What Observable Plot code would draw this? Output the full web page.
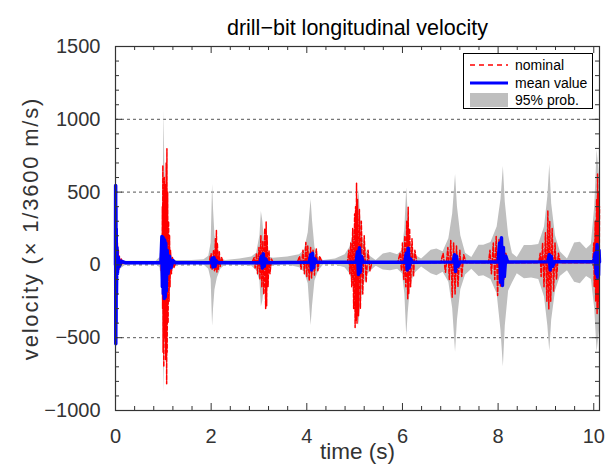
<!DOCTYPE html>
<html>
<head>
<meta charset="utf-8">
<script src="https://cdn.jsdelivr.net/npm/d3@7"></script>
<script src="https://cdn.jsdelivr.net/npm/@observablehq/plot@0.6"></script>
<style>
  html, body { margin: 0; padding: 0; background: #fff; }
  #wrap { position: relative; width: 613px; height: 471px; font-family: "Liberation Sans", Arial, sans-serif; }
  #legend { position: absolute; left: 463px; top: 53px; width: 128px; height: 54px; background: #fff; border: 1.5px solid #000; box-sizing: content-box; }
  #legend .row { position: absolute; left: 0; height: 18px; display: flex; align-items: center; font-size: 14px; color: #000; white-space: nowrap; }
  #legend svg { margin-left: 6px; margin-right: 7px; }
</style>
</head>
<body>
<div id="wrap"></div>
<script>
// ---- 95% probability band (envelope) ----
const bandTime = [0, 0.02, 0.06, 0.12, 0.2, 0.5, 0.85, 0.93, 0.98, 1.0, 1.016, 1.03, 1.06, 1.1, 1.16, 1.25, 1.6,
  1.85, 1.95, 2.0, 2.03, 2.05, 2.08, 2.13, 2.2, 2.3, 2.6, 2.85, 2.95, 3.02, 3.05, 3.08, 3.12, 3.18, 3.3, 3.6,
  3.85, 3.95, 4.03, 4.09, 4.12, 4.17, 4.25, 4.35, 4.6, 4.8, 4.9, 5.0, 5.07, 5.09, 5.12, 5.18, 5.28, 5.45,
  5.6, 5.75, 5.9, 6.0, 6.05, 6.09, 6.12, 6.17, 6.25, 6.4, 6.6, 6.72, 6.85, 6.97, 7.05, 7.11, 7.15, 7.22, 7.32,
  7.45, 7.6, 7.7, 7.85, 7.98, 8.06, 8.11, 8.15, 8.22, 8.3, 8.4, 8.55, 8.7, 8.85, 8.97, 9.04, 9.08, 9.12, 9.2,
  9.3, 9.45, 9.6, 9.72, 9.85, 9.95, 10.02, 10.07, 10.12];
const bandLow = [-20, -60, -50, -25, -5, 5, 5, -20, -150, -500, -874, -600, -350, -150, -50, -5, 5,
  0, -30, -100, -423, -300, -170, -90, -30, 0, 0, -10, -40, -110, -290, -250, -130, -50, -5, 0,
  -20, -50, -130, -416, -280, -110, -40, 0, 0, -20, -60, -180, -350, -416, -300, -150, -60, -10,
  -35, -40, -30, -60, -200, -492, -330, -150, -60, -15, -60, -75, -50, -120, -300, -600, -380, -170, -70,
  -30, -80, -75, -100, -200, -450, -702, -420, -180, -125, -60, -95, -90, -100, -220, -420, -593, -380, -180,
  -80, -40, -120, -130, -80, -100, -300, -600, -450];
const bandHigh = [20, 80, 60, 35, 25, 25, 25, 50, 200, 600, 1060, 700, 400, 180, 60, 30, 30,
  35, 60, 150, 552, 380, 200, 100, 45, 30, 40, 55, 80, 200, 367, 300, 140, 60, 45, 55,
  70, 100, 220, 449, 300, 120, 50, 30, 40, 70, 120, 250, 420, 515, 350, 170, 70, 30,
  75, 85, 70, 100, 250, 530, 350, 160, 70, 40, 100, 110, 90, 180, 350, 621, 400, 200, 80,
  50, 135, 135, 153, 260, 450, 676, 430, 200, 78, 50, 133, 133, 140, 260, 470, 690, 420, 200,
  90, 40, 150, 156, 110, 140, 400, 790, 600];

// ---- nominal response (red dashed), oscillation peaks ----
const nominalTime = [0, 0.005, 0.01, 0.015, 0.02, 0.025, 0.03, 0.04, 0.05, 0.06, 0.07, 0.08, 0.1, 0.12, 0.15, 0.2,
  0.93, 0.95, 0.955, 0.96, 0.965, 0.97, 0.975, 0.98, 0.985, 0.99, 0.995, 1.0, 1.01, 1.02, 1.03, 1.04, 1.05, 1.06, 1.07, 1.075, 1.08, 1.09, 1.1, 1.11, 1.12, 1.13, 1.14, 1.15, 1.17, 1.19, 1.22, 1.26,
  1.96, 1.98, 1.99, 2.0, 2.02, 2.05, 2.07, 2.09, 2.1, 2.11, 2.12, 2.13, 2.15, 2.17, 2.19, 2.22, 2.25,
  2.85, 2.9, 2.92, 2.95, 2.97, 3.0, 3.02, 3.04, 3.06, 3.08, 3.1, 3.12, 3.14, 3.15, 3.16, 3.17, 3.19, 3.21, 3.23, 3.26, 3.3,
  3.8, 3.85, 3.88, 3.92, 3.95, 3.98, 4.0, 4.02, 4.05, 4.08, 4.1, 4.13, 4.16, 4.2, 4.23, 4.27, 4.32,
  4.85, 4.88, 4.9, 4.92, 4.94, 4.96, 4.98, 5.0, 5.01, 5.02, 5.03, 5.04, 5.05, 5.06, 5.08, 5.1, 5.12, 5.14, 5.17, 5.2, 5.24, 5.28, 5.32, 5.36,
  5.9, 5.95, 5.98, 6.0, 6.03, 6.05, 6.07, 6.09, 6.11, 6.12, 6.13, 6.15, 6.17, 6.2, 6.23, 6.26, 6.3,
  6.8, 6.85, 6.9, 6.95, 6.98, 7.01, 7.04, 7.07, 7.1, 7.13, 7.16, 7.2, 7.24, 7.28, 7.33,
  7.8, 7.83, 7.86, 7.9, 7.93, 7.96, 7.99, 8.02, 8.05, 8.08, 8.12, 8.16, 8.2,
  8.85, 8.88, 8.9, 8.93, 8.96, 8.99, 9.02, 9.04, 9.06, 9.08, 9.1, 9.13, 9.16, 9.19, 9.22, 9.26, 9.3,
  9.98, 10.0, 10.01, 10.03, 10.04, 10.06, 10.07, 10.08, 10.09, 10.1, 10.11, 10.12];
const nominalValue = [0, 362, -60, 300, -80, 200, -70, 150, -50, 100, -30, 60, -10, 40, 10, 15,
  15, 60, -40, 100, -50, 150, -100, 400, -300, 683, -600, 500, -700, 600, -500, 550, -650, 700, -817, 797, -600, 500, -400, 300, -250, 200, -150, 100, -60, 50, -20, 15,
  15, 60, -20, 80, -30, 100, -40, 180, -30, 236, -50, 150, -30, 90, -10, 50, 15,
  15, 50, -20, 80, -60, 120, -100, 200, -150, 160, -200, 250, -300, 294, -280, 200, -150, 100, -60, 40, 15,
  15, 60, -30, 100, -60, 154, -80, 130, -107, 120, -90, 100, -70, 110, -40, 60, 15,
  15, 100, -60, 150, -150, 250, -300, 350, -430, 400, -380, 561, -400, 450, -350, 380, -300, 300, -200, 200, -120, 100, -40, 15,
  15, 80, -40, 150, -100, 200, -150, 300, -233, 396, -200, 250, -150, 180, -80, 100, 15,
  15, 80, -50, 120, -100, 168, -222, 150, -200, 130, -150, 100, -80, 70, 15,
  15, 100, -60, 150, -100, 195, -210, 180, -150, 120, -100, 80, 15,
  15, 80, -80, 150, -150, 220, -250, 373, -302, 300, -250, 250, -180, 150, -100, 80, 15,
  15, 150, -150, 300, -250, 450, -334, 625, -300, 500, -250, 400];

// ---- mean value (blue) ----
const meanTime = [0, 0.003, 0.006, 0.009, 0.012, 0.015, 0.02, 0.03, 0.04, 0.06, 0.08, 0.12, 0.2,
  0.95, 0.97, 0.98, 0.99, 1.0, 1.01, 1.02, 1.03, 1.04, 1.05, 1.06, 1.08, 1.1, 1.13, 1.16, 1.2, 1.25,
  2.0, 2.02, 2.04, 2.06, 2.08, 2.1, 2.14,
  3.02, 3.05, 3.07, 3.09, 3.11, 3.14, 3.18,
  4.05, 4.08, 4.1, 4.12, 4.14, 4.17, 4.2,
  5.03, 5.06, 5.08, 5.1, 5.12, 5.14, 5.18,
  6.05, 6.08, 6.1, 6.12, 6.14, 6.17, 6.2,
  7.06, 7.09, 7.11, 7.13, 7.16, 7.2,
  8.0, 8.03, 8.05, 8.07, 8.09, 8.11, 8.13, 8.16, 8.2,
  9.04, 9.07, 9.09, 9.11, 9.14, 9.18,
  10.0, 10.03, 10.05, 10.07, 10.08, 10.09, 10.1, 10.11, 10.12];
const meanValue = [0, 545, -542, 400, -400, 250, -200, 120, -60, 50, -10, 25, 15,
  15, 195, -150, 190, -200, 180, -231, 170, -220, 150, -180, 100, -60, 60, -20, 30, 15,
  15, 45, -15, 50, -10, 30, 15,
  15, 60, -22, 76, -10, 40, 15,
  18, 70, -35, 80, -20, 40, 18,
  18, 90, -66, 117, -50, 60, 18,
  18, 80, -35, 115, -20, 40, 18,
  20, 70, -45, 60, -10, 20,
  20, 150, -120, 186, -141, 120, -80, 60, 20,
  22, 70, -35, 60, -10, 22,
  22, 80, -60, 140, -84, 120, -70, 100, 20];

// ---- axes ----
const xMajor = [0, 2, 4, 6, 8, 10];
const xMinor = [0.4, 0.8, 1.2, 1.6, 2.4, 2.8, 3.2, 3.6, 4.4, 4.8, 5.2, 5.6, 6.4, 6.8, 7.2, 7.6, 8.4, 8.8, 9.2, 9.6];
const yMajor = [-1000, -500, 0, 500, 1000, 1500];
const yMinor = [-900, -800, -700, -600, -400, -300, -200, -100, 100, 200, 300, 400, 600, 700, 800, 900, 1100, 1200, 1300, 1400];
const yGrid = [-500, 0, 500, 1000];
const titleText = "drill\u2212bit longitudinal velocity";
const xLabel = "time (s)";
const yLabel = "velocity (\u00d7 1/3600 m/s)";
const legendItems = ["nominal", "mean value", "95% prob."];

const band = bandTime.map((t, i) => ({t, lo: bandLow[i], hi: bandHigh[i]}));
const nominal = nominalTime.map((t, i) => ({t, v: nominalValue[i]}));
const mean = meanTime.map((t, i) => ({t, v: meanValue[i]}));

const W = 613, H = 471, mL = 115, mR = 14, mT = 46, mB = 61;
const innerW = W - mL - mR, innerH = H - mT - mB;
const fmt = d => (d < 0 ? "\u2212" + Math.abs(d) : String(d));
const axisColor = "#333";
const tk = {stroke: axisColor, strokeWidth: 1};

const chart = Plot.plot({
  width: W,
  height: H,
  marginLeft: mL,
  marginRight: mR,
  marginTop: mT,
  marginBottom: mB,
  x: {domain: [0, 10.12]},
  y: {domain: [-1000, 1500]},
  style: {fontFamily: "'Liberation Sans', Arial, sans-serif", fontSize: "20px", color: axisColor, background: "#fff"},
  marks: [
    Plot.ruleY(yGrid, {stroke: "#555", strokeDasharray: "3,3", strokeWidth: 1}),
    Plot.areaY(band, {x: "t", y1: "lo", y2: "hi", fill: "#bfbfbf"}),
    Plot.line(nominal, {x: "t", y: "v", stroke: "#ff0000", strokeWidth: 1.5, strokeDasharray: "4,2"}),
    Plot.line(mean, {x: "t", y: "v", stroke: "#0000ff", strokeWidth: 3.5}),
    Plot.frame({stroke: axisColor, strokeWidth: 1.2}),
    // inward major ticks (bottom, top, left, right)
    Plot.ruleX(xMajor, {...tk, x: d => d, insetTop: innerH - 7}),
    Plot.ruleX(xMajor, {...tk, x: d => d, insetBottom: innerH - 7}),
    Plot.ruleY(yMajor, {...tk, y: d => d, insetRight: innerW - 7}),
    Plot.ruleY(yMajor, {...tk, y: d => d, insetLeft: innerW - 7}),
    // inward minor ticks
    Plot.ruleX(xMinor, {...tk, x: d => d, insetTop: innerH - 4}),
    Plot.ruleX(xMinor, {...tk, x: d => d, insetBottom: innerH - 4}),
    Plot.ruleY(yMinor, {...tk, y: d => d, insetRight: innerW - 4}),
    Plot.ruleY(yMinor, {...tk, y: d => d, insetLeft: innerW - 4}),
    // tick labels
    Plot.axisX({anchor: "bottom", ticks: xMajor, tickSize: 0, tickPadding: 18, tickFormat: fmt, label: null, fill: axisColor}),
    Plot.axisY({anchor: "left", ticks: yMajor, tickSize: 0, tickPadding: 15, tickFormat: fmt, label: null, fill: axisColor}),
    // titles
    Plot.text([titleText], {frameAnchor: "top", dy: -27, fontSize: 21.5, fill: "#000"}),
    Plot.text([xLabel], {frameAnchor: "bottom", dy: 48, fontSize: 22.5, fill: axisColor}),
    Plot.text([yLabel], {frameAnchor: "left", textAnchor: "middle", dx: -85, rotate: -90, fontSize: 22, fill: axisColor})
  ]
});

// widen the spacing of the vertical axis title to match the reference
chart.querySelectorAll("text").forEach(el => {
  if (el.textContent === yLabel) el.style.letterSpacing = "1.8px";
});

const wrap = document.getElementById("wrap");
wrap.appendChild(chart);

// legend drawn inside the axes box (top right)
const legend = document.createElement("div");
legend.id = "legend";
const samples = [
  '<svg width="38" height="10"><line x1="0" y1="5" x2="38" y2="5" stroke="#ff0000" stroke-width="1.4" stroke-dasharray="5,4"/></svg>',
  '<svg width="38" height="10"><line x1="0" y1="5" x2="38" y2="5" stroke="#0000ff" stroke-width="3"/></svg>',
  '<svg width="38" height="14"><rect x="0" y="0" width="38" height="14" fill="#bfbfbf"/></svg>'
];
legendItems.forEach((name, i) => {
  const row = document.createElement("div");
  row.className = "row";
  row.style.top = (2 + i * 17.5) + "px";
  row.innerHTML = samples[i] + "<span>" + name + "</span>";
  legend.appendChild(row);
});
wrap.appendChild(legend);
</script>
</body>
</html>
